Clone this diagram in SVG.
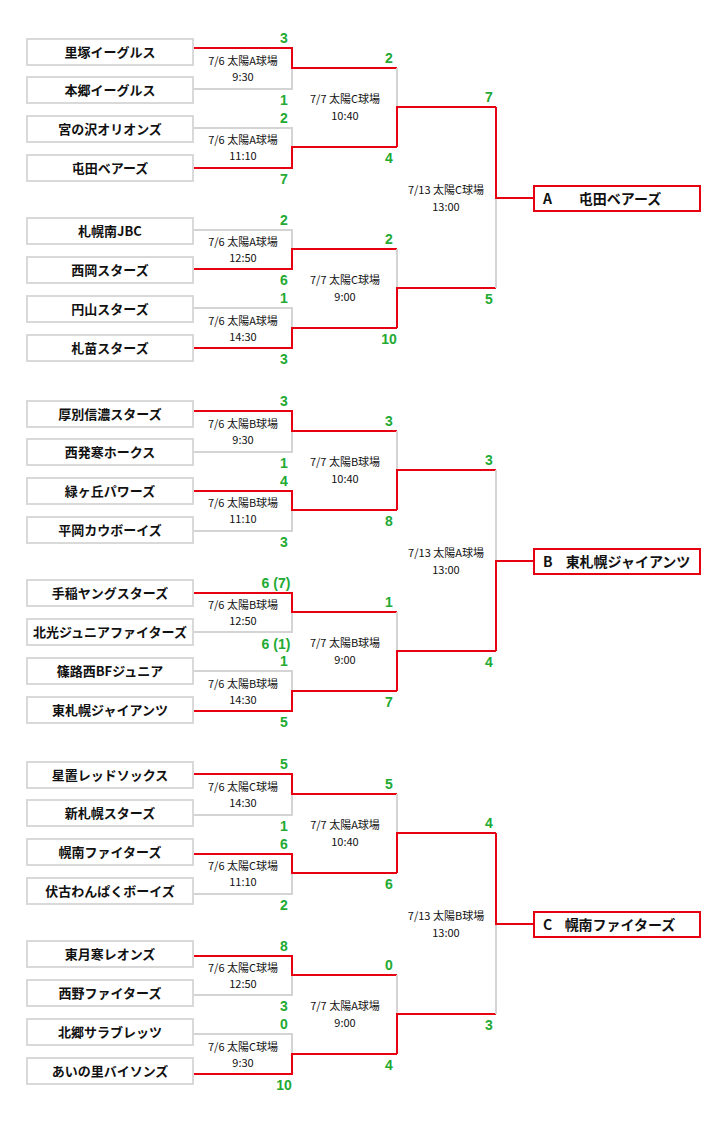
<svg xmlns="http://www.w3.org/2000/svg" width="724" height="1124" viewBox="0 0 724 1124">
<style>
.tb{fill:#fff;stroke:#d9d9d9;stroke-width:2}
.fb{fill:#fff;stroke:#e60012;stroke-width:2}
.tt{font-family:"Noto Sans CJK JP","Liberation Sans",sans-serif;font-size:13px;font-weight:bold;fill:#111;text-anchor:middle}
.ft{font-family:"Noto Sans CJK JP","Liberation Sans",sans-serif;font-size:14px;font-weight:bold;fill:#111}
.lb{font-family:"Noto Sans CJK JP","Liberation Sans",sans-serif;font-size:11px;fill:#111;text-anchor:middle}
.sc{font-family:"Liberation Sans",sans-serif;font-size:14px;font-weight:bold;fill:#22aa33;text-anchor:middle}
.r{fill:none;stroke:#e60012;stroke-width:2}
.g{fill:none;stroke:#d4d4d4;stroke-width:2}
</style>
<rect width="724" height="1124" fill="#fff"/>
<g id="connectors">
<!-- Block A -->
<g>
<polyline class="g" points="193,89 292,89 292,68"/><polyline class="r" points="193,48 292,48 292,68 397,68"/>
<polyline class="g" points="193,128 292,128 292,147"/><polyline class="r" points="193,168 292,168 292,147 397,147"/>
<polyline class="g" points="193,230 292,230 292,249"/><polyline class="r" points="193,269 292,269 292,249 397,249"/>
<polyline class="g" points="193,308 292,308 292,328"/><polyline class="r" points="193,348 292,348 292,328 397,328"/>
<polyline class="g" points="397,68 397,107"/><polyline class="r" points="397,147 397,107 496,107"/>
<polyline class="g" points="397,249 397,288"/><polyline class="r" points="397,328 397,288 496,288"/>
<polyline class="g" points="496,288 496,198"/><polyline class="r" points="496,107 496,198 534,198"/>
</g>
<!-- Block B -->
<g transform="translate(0,363)">
<polyline class="g" points="193,89 292,89 292,68"/><polyline class="r" points="193,48 292,48 292,68 397,68"/>
<polyline class="g" points="193,168 292,168 292,147"/><polyline class="r" points="193,128 292,128 292,147 397,147"/>
<polyline class="g" points="193,269 292,269 292,249"/><polyline class="r" points="193,230 292,230 292,249 397,249"/>
<polyline class="g" points="193,308 292,308 292,328"/><polyline class="r" points="193,348 292,348 292,328 397,328"/>
<polyline class="g" points="397,68 397,107"/><polyline class="r" points="397,147 397,107 496,107"/>
<polyline class="g" points="397,249 397,288"/><polyline class="r" points="397,328 397,288 496,288"/>
<polyline class="g" points="496,107 496,198"/><polyline class="r" points="496,288 496,198 534,198"/>
</g>
<!-- Block C -->
<g transform="translate(0,726)">
<polyline class="g" points="193,89 292,89 292,68"/><polyline class="r" points="193,48 292,48 292,68 397,68"/>
<polyline class="g" points="193,168 292,168 292,147"/><polyline class="r" points="193,128 292,128 292,147 397,147"/>
<polyline class="g" points="193,269 292,269 292,249"/><polyline class="r" points="193,230 292,230 292,249 397,249"/>
<polyline class="g" points="193,308 292,308 292,328"/><polyline class="r" points="193,348 292,348 292,328 397,328"/>
<polyline class="g" points="397,68 397,107"/><polyline class="r" points="397,147 397,107 496,107"/>
<polyline class="g" points="397,249 397,288"/><polyline class="r" points="397,328 397,288 496,288"/>
<polyline class="g" points="496,288 496,198"/><polyline class="r" points="496,107 496,198 534,198"/>
</g>
</g>

<!-- Block A nodes -->
<g id="blockA">
<g id="a1"><rect class="tb" x="27" y="39" width="166" height="26"/><text class="tt" x="110" y="57">里塚イーグルス</text></g>
<g id="a2"><rect class="tb" x="27" y="77" width="166" height="26"/><text class="tt" x="110" y="95">本郷イーグルス</text></g>
<g id="a3"><rect class="tb" x="27" y="116" width="166" height="26"/><text class="tt" x="110" y="134">宮の沢オリオンズ</text></g>
<g id="a4"><rect class="tb" x="27" y="155" width="166" height="26"/><text class="tt" x="110" y="173">屯田ベアーズ</text></g>
<g id="a5"><rect class="tb" x="27" y="218" width="166" height="26"/><text class="tt" x="110" y="236">札幌南JBC</text></g>
<g id="a6"><rect class="tb" x="27" y="257" width="166" height="26"/><text class="tt" x="110" y="275">西岡スターズ</text></g>
<g id="a7"><rect class="tb" x="27" y="296" width="166" height="26"/><text class="tt" x="110" y="314">円山スターズ</text></g>
<g id="a8"><rect class="tb" x="27" y="335" width="166" height="26"/><text class="tt" x="110" y="353">札苗スターズ</text></g>
<g id="aF"><rect class="fb" x="534" y="186" width="166" height="25"/><text class="ft" x="543" y="204">A</text><text class="ft" x="620" y="204" text-anchor="middle">屯田ベアーズ</text></g>
<g id="aLabels">
<text class="lb" x="243" y="65">7/6 太陽A球場</text><text class="lb" x="243" y="81">9:30</text>
<text class="lb" x="243" y="144">7/6 太陽A球場</text><text class="lb" x="243" y="160">11:10</text>
<text class="lb" x="243" y="246">7/6 太陽A球場</text><text class="lb" x="243" y="262">12:50</text>
<text class="lb" x="243" y="325">7/6 太陽A球場</text><text class="lb" x="243" y="341">14:30</text>
<text class="lb" x="345" y="103">7/7 太陽C球場</text><text class="lb" x="345" y="120">10:40</text>
<text class="lb" x="345" y="284">7/7 太陽C球場</text><text class="lb" x="345" y="301">9:00</text>
<text class="lb" x="446" y="194">7/13 太陽C球場</text><text class="lb" x="446" y="211">13:00</text>
</g>
<g id="aScores">
<text class="sc" x="284" y="43">3</text><text class="sc" x="284" y="105">1</text>
<text class="sc" x="284" y="123">2</text><text class="sc" x="284" y="184">7</text>
<text class="sc" x="284" y="225">2</text><text class="sc" x="284" y="285">6</text>
<text class="sc" x="284" y="303">1</text><text class="sc" x="284" y="364">3</text>
<text class="sc" x="389" y="63">2</text><text class="sc" x="389" y="163">4</text>
<text class="sc" x="389" y="244">2</text><text class="sc" x="389" y="344">10</text>
<text class="sc" x="489" y="102">7</text><text class="sc" x="489" y="304">5</text>
</g>
</g>

<g id="blockB" transform="translate(0,362)">
<g id="b1"><rect class="tb" x="27" y="39" width="166" height="26"/><text class="tt" x="110" y="57">厚別信濃スターズ</text></g>
<g id="b2"><rect class="tb" x="27" y="77" width="166" height="26"/><text class="tt" x="110" y="95">西発寒ホークス</text></g>
<g id="b3"><rect class="tb" x="27" y="116" width="166" height="26"/><text class="tt" x="110" y="134">緑ヶ丘パワーズ</text></g>
<g id="b4"><rect class="tb" x="27" y="155" width="166" height="26"/><text class="tt" x="110" y="173">平岡カウボーイズ</text></g>
<g id="b5"><rect class="tb" x="27" y="218" width="166" height="26"/><text class="tt" x="110" y="236">手稲ヤングスターズ</text></g>
<g id="b6"><rect class="tb" x="27" y="257" width="166" height="26"/><text class="tt" x="110" y="275">北光ジュニアファイターズ</text></g>
<g id="b7"><rect class="tb" x="27" y="296" width="166" height="26"/><text class="tt" x="110" y="314">篠路西BFジュニア</text></g>
<g id="b8"><rect class="tb" x="27" y="335" width="166" height="26"/><text class="tt" x="110" y="353">東札幌ジャイアンツ</text></g>
</g>
<g id="bF"><rect class="fb" x="534" y="549" width="166" height="25"/><text class="ft" x="543" y="567">B</text><text class="ft" x="628" y="567" text-anchor="middle">東札幌ジャイアンツ</text></g>
<g id="bText" transform="translate(0,363)">
<text class="lb" x="243" y="65">7/6 太陽B球場</text><text class="lb" x="243" y="81">9:30</text>
<text class="lb" x="243" y="144">7/6 太陽B球場</text><text class="lb" x="243" y="160">11:10</text>
<text class="lb" x="243" y="246">7/6 太陽B球場</text><text class="lb" x="243" y="262">12:50</text>
<text class="lb" x="243" y="325">7/6 太陽B球場</text><text class="lb" x="243" y="341">14:30</text>
<text class="lb" x="345" y="103">7/7 太陽B球場</text><text class="lb" x="345" y="120">10:40</text>
<text class="lb" x="345" y="284">7/7 太陽B球場</text><text class="lb" x="345" y="301">9:00</text>
<text class="lb" x="446" y="194">7/13 太陽A球場</text><text class="lb" x="446" y="211">13:00</text>
<text class="sc" x="284" y="43">3</text><text class="sc" x="284" y="105">1</text>
<text class="sc" x="284" y="123">4</text><text class="sc" x="284" y="184">3</text>
<text class="sc" x="276" y="225">6 (7)</text><text class="sc" x="276" y="286">6 (1)</text>
<text class="sc" x="284" y="303">1</text><text class="sc" x="284" y="364">5</text>
<text class="sc" x="389" y="63">3</text><text class="sc" x="389" y="163">8</text>
<text class="sc" x="389" y="244">1</text><text class="sc" x="389" y="344">7</text>
<text class="sc" x="489" y="102">3</text><text class="sc" x="489" y="304">4</text>
</g>

<g id="blockC" transform="translate(0,723)">
<g id="c1"><rect class="tb" x="27" y="39" width="166" height="26"/><text class="tt" x="110" y="57">星置レッドソックス</text></g>
<g id="c2"><rect class="tb" x="27" y="77" width="166" height="26"/><text class="tt" x="110" y="95">新札幌スターズ</text></g>
<g id="c3"><rect class="tb" x="27" y="116" width="166" height="26"/><text class="tt" x="110" y="134">幌南ファイターズ</text></g>
<g id="c4"><rect class="tb" x="27" y="155" width="166" height="26"/><text class="tt" x="110" y="173">伏古わんぱくボーイズ</text></g>
<g id="c5"><rect class="tb" x="27" y="218" width="166" height="26"/><text class="tt" x="110" y="236">東月寒レオンズ</text></g>
<g id="c6"><rect class="tb" x="27" y="257" width="166" height="26"/><text class="tt" x="110" y="275">西野ファイターズ</text></g>
<g id="c7"><rect class="tb" x="27" y="296" width="166" height="26"/><text class="tt" x="110" y="314">北郷サラブレッツ</text></g>
<g id="c8"><rect class="tb" x="27" y="335" width="166" height="26"/><text class="tt" x="110" y="353">あいの里バイソンズ</text></g>
</g>
<g id="cF"><rect class="fb" x="534" y="912" width="166" height="25"/><text class="ft" x="543" y="930">C</text><text class="ft" x="620" y="930" text-anchor="middle">幌南ファイターズ</text></g>
<g id="cText" transform="translate(0,726)">
<text class="lb" x="243" y="65">7/6 太陽C球場</text><text class="lb" x="243" y="81">14:30</text>
<text class="lb" x="243" y="144">7/6 太陽C球場</text><text class="lb" x="243" y="160">11:10</text>
<text class="lb" x="243" y="246">7/6 太陽C球場</text><text class="lb" x="243" y="262">12:50</text>
<text class="lb" x="243" y="325">7/6 太陽C球場</text><text class="lb" x="243" y="341">9:30</text>
<text class="lb" x="345" y="103">7/7 太陽A球場</text><text class="lb" x="345" y="120">10:40</text>
<text class="lb" x="345" y="284">7/7 太陽A球場</text><text class="lb" x="345" y="301">9:00</text>
<text class="lb" x="446" y="194">7/13 太陽B球場</text><text class="lb" x="446" y="211">13:00</text>
<text class="sc" x="284" y="43">5</text><text class="sc" x="284" y="105">1</text>
<text class="sc" x="284" y="123">6</text><text class="sc" x="284" y="184">2</text>
<text class="sc" x="284" y="225">8</text><text class="sc" x="284" y="285">3</text>
<text class="sc" x="284" y="303">0</text><text class="sc" x="284" y="364">10</text>
<text class="sc" x="389" y="63">5</text><text class="sc" x="389" y="163">6</text>
<text class="sc" x="389" y="244">0</text><text class="sc" x="389" y="344">4</text>
<text class="sc" x="489" y="102">4</text><text class="sc" x="489" y="304">3</text>
</g>
</svg>
